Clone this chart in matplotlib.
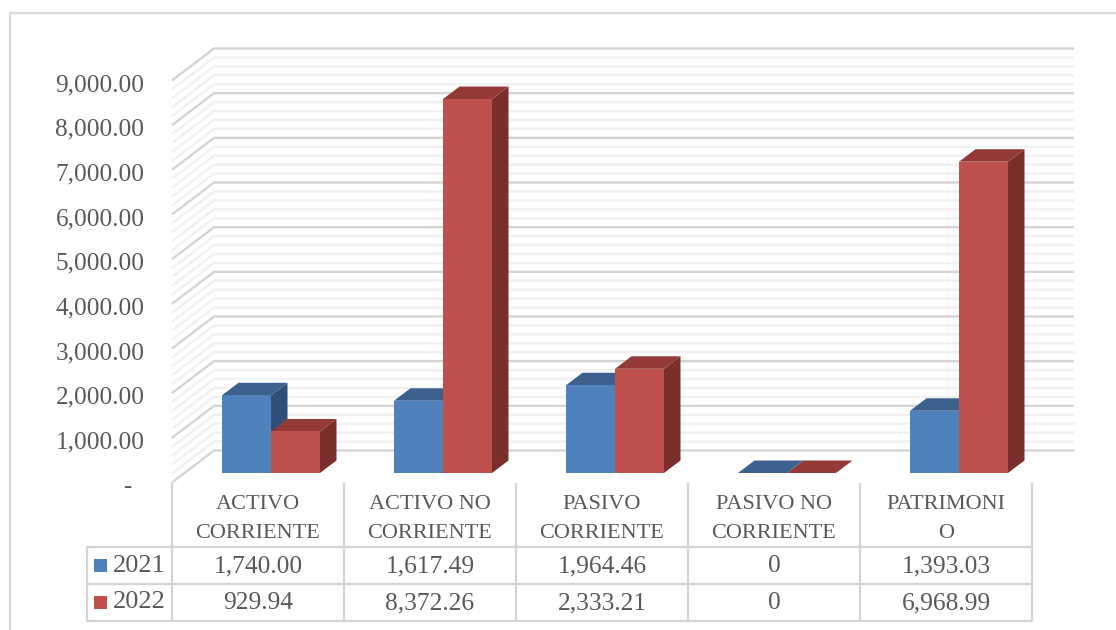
import matplotlib
matplotlib.use("Agg")
import matplotlib.pyplot as plt
from matplotlib.patches import Polygon, Rectangle

categories = ["ACTIVO\nCORRIENTE", "ACTIVO NO\nCORRIENTE", "PASIVO\nCORRIENTE",
              "PASIVO NO\nCORRIENTE", "PATRIMONI\nO"]
series_names = ["2021", "2022"]
values_2021 = [1740.00, 1617.49, 1964.46, 0, 1393.03]
values_2022 = [929.94, 8372.26, 2333.21, 0, 6968.99]
labels_2021 = ["1,740.00", "1,617.49", "1,964.46", "0", "1,393.03"]
labels_2022 = ["929.94", "8,372.26", "2,333.21", "0", "6,968.99"]
y_ticks = [0, 1000, 2000, 3000, 4000, 5000, 6000, 7000, 8000, 9000]
y_labels = ["-  ", "1,000.00", "2,000.00", "3,000.00", "4,000.00", "5,000.00",
            "6,000.00", "7,000.00", "8,000.00", "9,000.00"]

W, H = 1116, 630
FONT = "Liberation Serif"
TXT = "#595959"
BLUE, BLUE_TOP, BLUE_SIDE = "#4f81bd", "#3c618f", "#2f4f78"
RED, RED_TOP, RED_SIDE = "#c0504d", "#933a38", "#7a2f2d"
GRID, MINOR = "#d4d4d4", "#f1f1f1"

# pixel box of the front plane, x in categories and y in value units
LEFT, RIGHT, BASE, TOP = 172, 1032, 482.5, 80.5
PX_X = (RIGHT - LEFT) / 5
PX_Y = (BASE - TOP) / 9000


def dx(px):
    return px / PX_X


def dy(px):
    return px / PX_Y


fig = plt.figure(figsize=(W / 100, H / 100), dpi=100)
ax = fig.add_axes([LEFT / W, 1 - BASE / H, (RIGHT - LEFT) / W, (BASE - TOP) / H])
ax.set_xlim(0, 5)
ax.set_ylim(0, 9000)
ax.axis("off")

# outer frame of the chart, cut by the picture at the bottom and on the right
fig.add_artist(plt.Line2D([9.5 / W, 9.5 / W, 1], [0, 1 - 12.5 / H, 1 - 12.5 / H],
                          color="#d9d9d9", lw=1.6))

# walls: every 200 is a faint line, every 1000 a stronger one
wall_dx, wall_dy = dx(42), dy(32)
for v in range(0, 9001, 200):
    major = v % 1000 == 0
    c = GRID if major else MINOR
    ax.plot([0, wall_dx, dx(902)], [v, v + wall_dy, v + wall_dy], color=c,
            lw=1.7, zorder=2 if major else 1,
            clip_on=False, solid_capstyle="butt")

# 3d bars
bar_w = dx(49)
shift = dx(13)
side_dx, side_dy = dx(16.5), dy(12.5)
floor = dy(9.5)


def bar_3d(x0, v, front, top, side, z):
    x1 = x0 + bar_w
    y0, y1 = floor, floor + v
    ax.bar(x0, v, bar_w, bottom=floor, align="edge", color=front, zorder=z + 0.2)
    ax.add_patch(Polygon([(x0, y1), (x1, y1), (x1 + side_dx, y1 + side_dy), (x0 + side_dx, y1 + side_dy)],
                         closed=True, fc=top, ec="none", zorder=z + 0.1))
    ax.add_patch(Polygon([(x1, y0), (x1 + side_dx, y0 + side_dy), (x1 + side_dx, y1 + side_dy), (x1, y1)],
                         closed=True, fc=side, ec="none", zorder=z))


for i in range(len(categories)):
    c = i + 0.5 + shift
    bar_3d(c - bar_w, values_2021[i], BLUE, BLUE_TOP, BLUE_SIDE, 3)
    bar_3d(c, values_2022[i], RED, RED_TOP, RED_SIDE, 4)

# value axis labels
for v, lab in zip(y_ticks, y_labels):
    ax.text(dx(-27.5), v - dy(4.5), lab, ha="right", va="center", family=FONT, fontsize=18.2,
            color=TXT, clip_on=False)


# data table below the chart, drawn in row units under the axis
def y_px(px):
    return (BASE - px) / PX_Y


row_1, row_2, row_3 = y_px(546.5), y_px(584), y_px(621)
table_left = dx(86.5 - LEFT)
for y in (row_1, row_2, row_3):
    ax.plot([table_left, 5], [y, y], color=GRID, lw=1.6, clip_on=False, solid_capstyle="butt")
ax.plot([table_left, table_left], [row_1, row_3], color=GRID, lw=1.6, clip_on=False)
for k in range(6):
    ax.plot([k, k], [0, row_3], color=GRID, lw=1.6, clip_on=False, solid_capstyle="butt")

for i, name in enumerate(categories):
    ax.text(i + 0.5, y_px(519), name, ha="center", va="center", family=FONT, fontsize=16,
            color=TXT, linespacing=1.7, clip_on=False)
    ax.text(i + 0.5, y_px(566), labels_2021[i], ha="center", va="center", family=FONT,
            fontsize=18.4, color=TXT, clip_on=False)
    ax.text(i + 0.5, y_px(603), labels_2022[i], ha="center", va="center", family=FONT,
            fontsize=18.4, color=TXT, clip_on=False)

for name, col, yc in zip(series_names, [BLUE, RED], [565, 602]):
    ax.add_patch(Rectangle((dx(94 - LEFT), y_px(yc + 6.5)), dx(13), dy(13), fc=col, ec="none",
                           clip_on=False))
    ax.text(dx(113 - LEFT), y_px(yc + 0.5), name, ha="left", va="center", family=FONT, fontsize=19,
            color=TXT, clip_on=False)

fig.savefig("out.png", dpi=100)
